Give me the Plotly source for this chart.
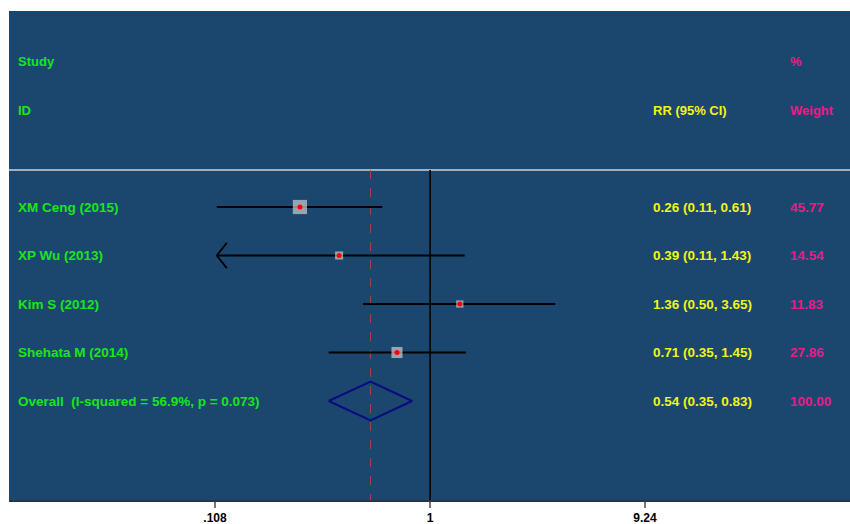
import numpy as np
import plotly.graph_objects as go

# Study-level estimates (risk ratio, 95% CI, % weight)
studies = ["XM Ceng (2015)", "XP Wu (2013)", "Kim S (2012)", "Shehata M (2014)"]
rr = [0.26, 0.39, 1.36, 0.71]
ci_low = [0.11, 0.11, 0.50, 0.35]
ci_high = [0.61, 1.43, 3.65, 1.45]
weights = [45.77, 14.54, 11.83, 27.86]
clipped_low = [False, True, False, False]

# Pooled estimate
overall_label = "Overall  (I-squared = 56.9%, p = 0.073)"
overall_rr = 0.54
overall_low = 0.35
overall_high = 0.83
overall_weight = 100.00

# Axis ticks
tick_vals = [0.108, 1, 9.24]
tick_text = [".108", "1", "9.24"]

PANEL = "#1b476e"
GREEN = "#19e619"
YELLOW = "#f2f21c"
PINK = "#ea1a86"
FONT = "Liberation Sans"
HEAD_FONT = "Liberation Sans Narrow, Liberation Sans"

# geometry of the plotting panel (pixels)
W, H = 850, 524
ml, mr, mt, mb = 9, 0, 11, 24
px_per_dec = 222.54
x_one_px = 430.1
xr = [(ml - x_one_px) / px_per_dec, (W - mr - x_one_px) / px_per_dec]
row_px = 48.5
first_row_px = 207
yr = [(H - mb - first_row_px) / row_px, (mt - first_row_px) / row_px]
sep_y = (170 - first_row_px) / row_px

rows = list(range(len(studies)))
overall_row = len(studies)

fig = go.Figure()

# separator under header
fig.add_trace(go.Scatter(x=[10 ** xr[0], 10 ** xr[1]], y=[sep_y, sep_y], mode="lines",
                         line=dict(color="#9fb0c2", width=2), hoverinfo="skip"))

# line of no effect and dashed pooled-estimate line
fig.add_trace(go.Scatter(x=[1, 1], y=[sep_y, yr[0]], mode="lines",
                         line=dict(color="black", width=1.5), hoverinfo="skip"))
fig.add_trace(go.Scatter(x=[overall_rr, overall_rr], y=[sep_y, yr[0]], mode="lines",
                         line=dict(color="#a8404c", width=1, dash="dash"), hoverinfo="skip"))

# confidence intervals
for i in rows:
    fig.add_trace(go.Scatter(x=[ci_low[i], ci_high[i]], y=[i, i], mode="lines",
                             line=dict(color="black", width=2), hoverinfo="skip"))
    if clipped_low[i]:
        head = ci_low[i] * 10 ** 0.045
        fig.add_trace(go.Scatter(x=[head, ci_low[i], head], y=[i - 0.26, i, i + 0.26],
                                 mode="lines", line=dict(color="black", width=1.8),
                                 hoverinfo="skip"))

# weight boxes and point estimates
fig.add_trace(go.Scatter(x=rr, y=rows, mode="markers",
                         marker=dict(symbol="square", color="#cdcdcd",
                                     size=[2.1 * np.sqrt(w) for w in weights],
                                     line=dict(width=0)), hoverinfo="skip"))
fig.add_trace(go.Scatter(x=rr, y=rows, mode="markers",
                         marker=dict(color="red", size=5), hoverinfo="skip"))

# pooled diamond
fig.add_trace(go.Scatter(x=[overall_low, overall_rr, overall_high, overall_rr, overall_low],
                         y=[overall_row, overall_row - 0.4, overall_row, overall_row + 0.4, overall_row],
                         mode="lines", line=dict(color="#0a0a82", width=2), hoverinfo="skip"))


def px_to_paper(px):
    return (px - ml) / (W - ml - mr)


anns = []


def text(px, y, s, color, size=13.5, family=FONT):
    anns.append(dict(x=px_to_paper(px - 2), xref="paper", y=y, yref="y", text=s,
                     showarrow=False, xanchor="left", yanchor="middle",
                     font=dict(family=family, size=size, color=color)))


# header
text(18, -3, "<b>Study</b>", GREEN, 13, HEAD_FONT)
text(18, -2, "<b>ID</b>", GREEN, 13, HEAD_FONT)
text(653, -2, "<b>RR (95% CI)</b>", YELLOW, 13, HEAD_FONT)
text(790, -3, "<b>%</b>", PINK, 13, HEAD_FONT)
text(790, -2, "<b>Weight</b>", PINK, 13, HEAD_FONT)

for i in rows:
    text(18, i, f"<b>{studies[i]}</b>", GREEN)
    text(653, i, f"<b>{rr[i]:.2f} ({ci_low[i]:.2f}, {ci_high[i]:.2f})</b>", YELLOW)
    text(790, i, f"<b>{weights[i]:.2f}</b>", PINK)

text(18, overall_row, f"<b>{overall_label}</b>", GREEN)
text(653, overall_row, f"<b>{overall_rr:.2f} ({overall_low:.2f}, {overall_high:.2f})</b>", YELLOW)
text(790, overall_row, f"<b>{overall_weight:.2f}</b>", PINK)

fig.update_layout(
    width=W, height=H,
    margin=dict(l=ml, r=mr, t=mt, b=mb),
    paper_bgcolor="white", plot_bgcolor=PANEL,
    showlegend=False,
    annotations=anns,
    xaxis=dict(type="log", range=xr, tickvals=tick_vals,
               ticktext=[f"<b>{t}</b>" for t in tick_text],
               ticks="outside", ticklen=6, tickwidth=1.5, tickcolor="#777",
               showgrid=False, zeroline=False, showline=True, linecolor="#2b3440",
               linewidth=2, tickfont=dict(family=FONT, size=12, color="black"),
               automargin=False, fixedrange=True),
    yaxis=dict(range=yr, showgrid=False, zeroline=False, showticklabels=False,
               showline=False, automargin=False, fixedrange=True),
)

fig.write_html("out.html")
